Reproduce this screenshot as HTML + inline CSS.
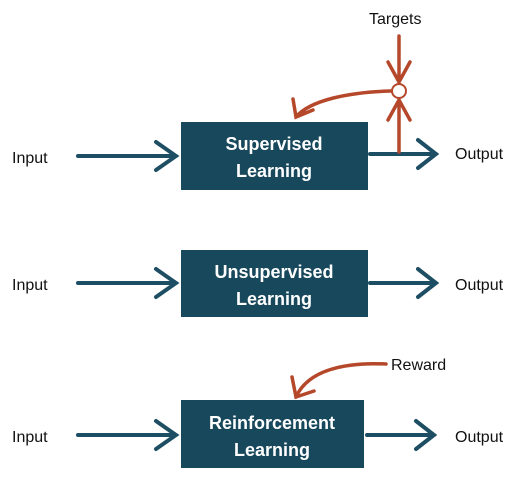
<!DOCTYPE html>
<html><head><style>
body{margin:0;background:#fff;width:528px;height:484px;overflow:hidden}
svg text{font-family:"Liberation Sans",sans-serif}
</style></head><body>
<svg width="528" height="484" xmlns="http://www.w3.org/2000/svg">
<g fill="#18485b">
<rect x="181" y="122" width="187" height="68"/>
<rect x="181" y="250" width="187" height="67"/>
<rect x="181" y="400" width="183" height="68"/>
</g>
<g fill="#fff" font-weight="bold" font-size="18" text-anchor="middle">
<text x="274" y="150">Supervised</text><text x="274" y="177">Learning</text>
<text x="274" y="278">Unsupervised</text><text x="274" y="305">Learning</text>
<text x="272" y="429">Reinforcement</text><text x="272" y="456">Learning</text>
</g>
<g font-size="16" fill="#111">
<text x="12" y="163">Input</text><text x="455" y="159">Output</text>
<text x="12" y="290">Input</text><text x="455" y="290">Output</text>
<text x="12" y="442">Input</text><text x="455" y="442">Output</text>
<text x="369" y="24">Targets</text><text x="391" y="370">Reward</text>
</g>
<g stroke="#1d4e63" stroke-width="4" fill="none" stroke-linecap="round">
<path d="M78 156H176M156 142L176 156L156 170"/>
<path d="M370 154H436M418 140L436 154L418 168"/>
<path d="M78 283H176M156 269L176 283L156 297"/>
<path d="M370 283H436M418 269L436 283L418 297"/>
<path d="M78 435H176M156 421L176 435L156 449"/>
<path d="M367 435H434M416 421L434 435L416 449"/>
</g>
<g stroke="#b5482a" stroke-width="3.5" fill="none" stroke-linecap="round">
<path d="M399 36V82M388 62L399 82L410 62"/>
<path d="M399 152V100M388 120L399 100L410 120"/>
<path d="M391 91C350 92 310 100 296 117M293 99L296 117L313 110"/>
<path d="M386 364C345 362 308 370 296 397M292 377L296 397L314 391"/>
</g>
<circle cx="399" cy="91" r="7" fill="#fff" stroke="#b5482a" stroke-width="2"/>
</svg>
</body></html>
